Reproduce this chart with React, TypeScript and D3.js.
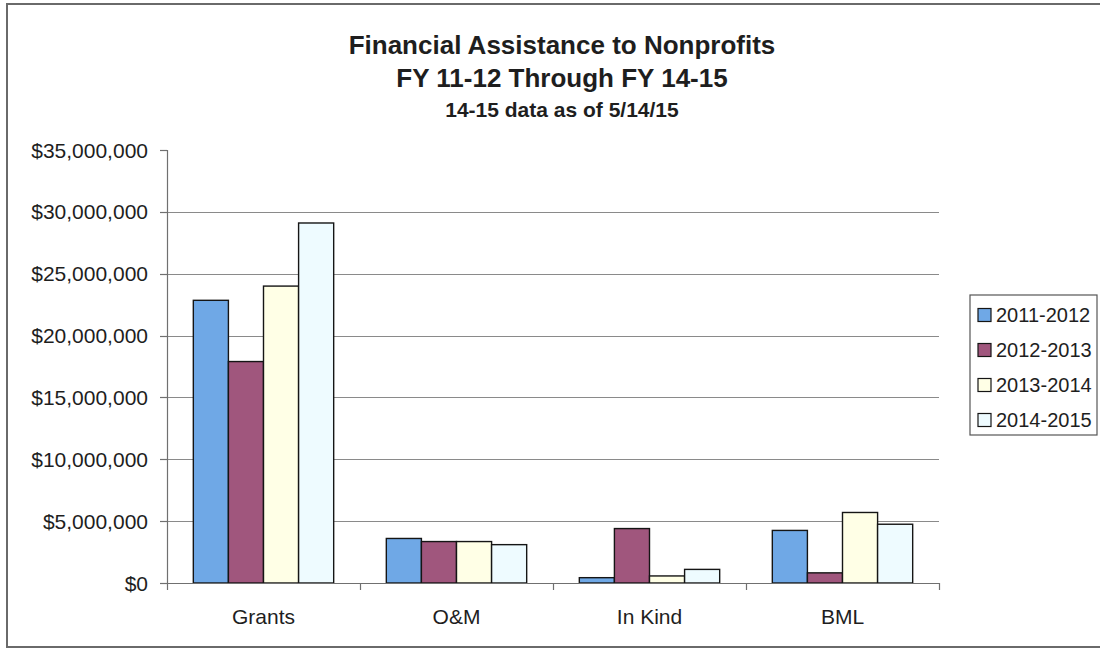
import React from "react";
import * as d3 from "d3";

const categories = ["Grants", "O&M", "In Kind", "BML"];
const seriesNames = ["2011-2012", "2012-2013", "2013-2014", "2014-2015"];
const values2011 = [22850000, 3600000, 430000, 4250000];
const values2012 = [17900000, 3350000, 4400000, 820000];
const values2013 = [24000000, 3350000, 570000, 5700000];
const values2014 = [29100000, 3100000, 1100000, 4750000];
const seriesColors = ["#6FA8E6", "#A0567D", "#FFFFE6", "#EEFBFF"];
const yTicks = [0, 5000000, 10000000, 15000000, 20000000, 25000000, 30000000, 35000000];
const titleLines = ["Financial Assistance to Nonprofits", "FY 11-12 Through FY 14-15", "14-15 data as of 5/14/15"];

const allSeries = [values2011, values2012, values2013, values2014];

export default function App() {
  const W = 1100, H = 650;
  const left = 167, right = 939, top = 150, bottom = 583;
  const font = "'Liberation Sans', Arial, sans-serif";
  const textColor = "#1e1e1e";

  const x = d3.scaleBand<string>().domain(categories).range([left, right])
    .paddingInner(1.5 / 5.5).paddingOuter(0.75 / 5.5);
  const xs = d3.scaleBand<number>().domain(d3.range(seriesNames.length)).range([0, x.bandwidth()]);
  const y = d3.scaleLinear().domain([0, 35000000]).range([bottom, top]);
  const step = x.step();
  const fmt = (v: number) => "$" + d3.format(",")(v);

  return (
    <svg width={W} height={H} style={{ position: "absolute", left: 0, top: 0, background: "#fff" }} fontFamily={font}>
      <rect x={7} y={4} width={1110} height={643} fill="#fff" stroke="#6a6a6a" strokeWidth={2} />
      {/* title */}
      <text x={562} y={54} textAnchor="middle" fontSize={26} fontWeight="bold" fill={textColor}>{titleLines[0]}</text>
      <text x={562} y={87} textAnchor="middle" fontSize={26} fontWeight="bold" fill={textColor}>{titleLines[1]}</text>
      <text x={562} y={117} textAnchor="middle" fontSize={21} fontWeight="bold" fill={textColor}>{titleLines[2]}</text>

      {/* gridlines */}
      {yTicks.filter(t => t > 0 && t < 35000000).map(t => (
        <line key={"g" + t} x1={left} x2={right} y1={Math.round(y(t)) + 0.5} y2={Math.round(y(t)) + 0.5} stroke="#8a8a8a" strokeWidth={1} />
      ))}

      {/* bars */}
      {categories.map((c, ci) => (
        <g key={c} transform={`translate(${x(c)},0)`}>
          {allSeries.map((vals, si) => (
            <rect key={si} x={xs(si)} y={y(vals[ci])} width={xs.bandwidth()} height={bottom - y(vals[ci])}
              fill={seriesColors[si]} stroke="#151515" strokeWidth={1.4} />
          ))}
        </g>
      ))}

      {/* axes */}
      <line x1={left + 0.5} x2={left + 0.5} y1={top} y2={bottom} stroke="#707070" strokeWidth={1.2} />
      <line x1={left} x2={right} y1={bottom + 0.5} y2={bottom + 0.5} stroke="#707070" strokeWidth={1.2} />
      {yTicks.map(t => (
        <g key={"t" + t}>
          <line x1={left - 7} x2={left} y1={Math.round(y(t)) + 0.5} y2={Math.round(y(t)) + 0.5} stroke="#707070" strokeWidth={1.2} />
          <text x={148} y={y(t)} dy="0.36em" textAnchor="end" fontSize={21} fill={textColor}>{fmt(t)}</text>
        </g>
      ))}
      {d3.range(categories.length + 1).map(i => (
        <line key={"xt" + i} x1={left + i * step + 0.5} x2={left + i * step + 0.5} y1={bottom} y2={bottom + 7} stroke="#707070" strokeWidth={1.2} />
      ))}
      {categories.map(c => (
        <text key={"l" + c} x={(x(c) as number) + x.bandwidth() / 2} y={624} textAnchor="middle" fontSize={21} fill={textColor}>{c}</text>
      ))}

      {/* legend */}
      <rect x={970} y={295} width={127} height={140} fill="#fff" stroke="#555" strokeWidth={1.2} />
      {seriesNames.map((s, i) => {
        const cy = 315 + i * 35;
        return (
          <g key={s}>
            <rect x={978} y={cy - 6.5} width={13} height={13} fill={seriesColors[i]} stroke="#151515" strokeWidth={1.2} />
            <text x={996} y={cy} dy="0.36em" fontSize={20} fill={textColor}>{s}</text>
          </g>
        );
      })}
    </svg>
  );
}
